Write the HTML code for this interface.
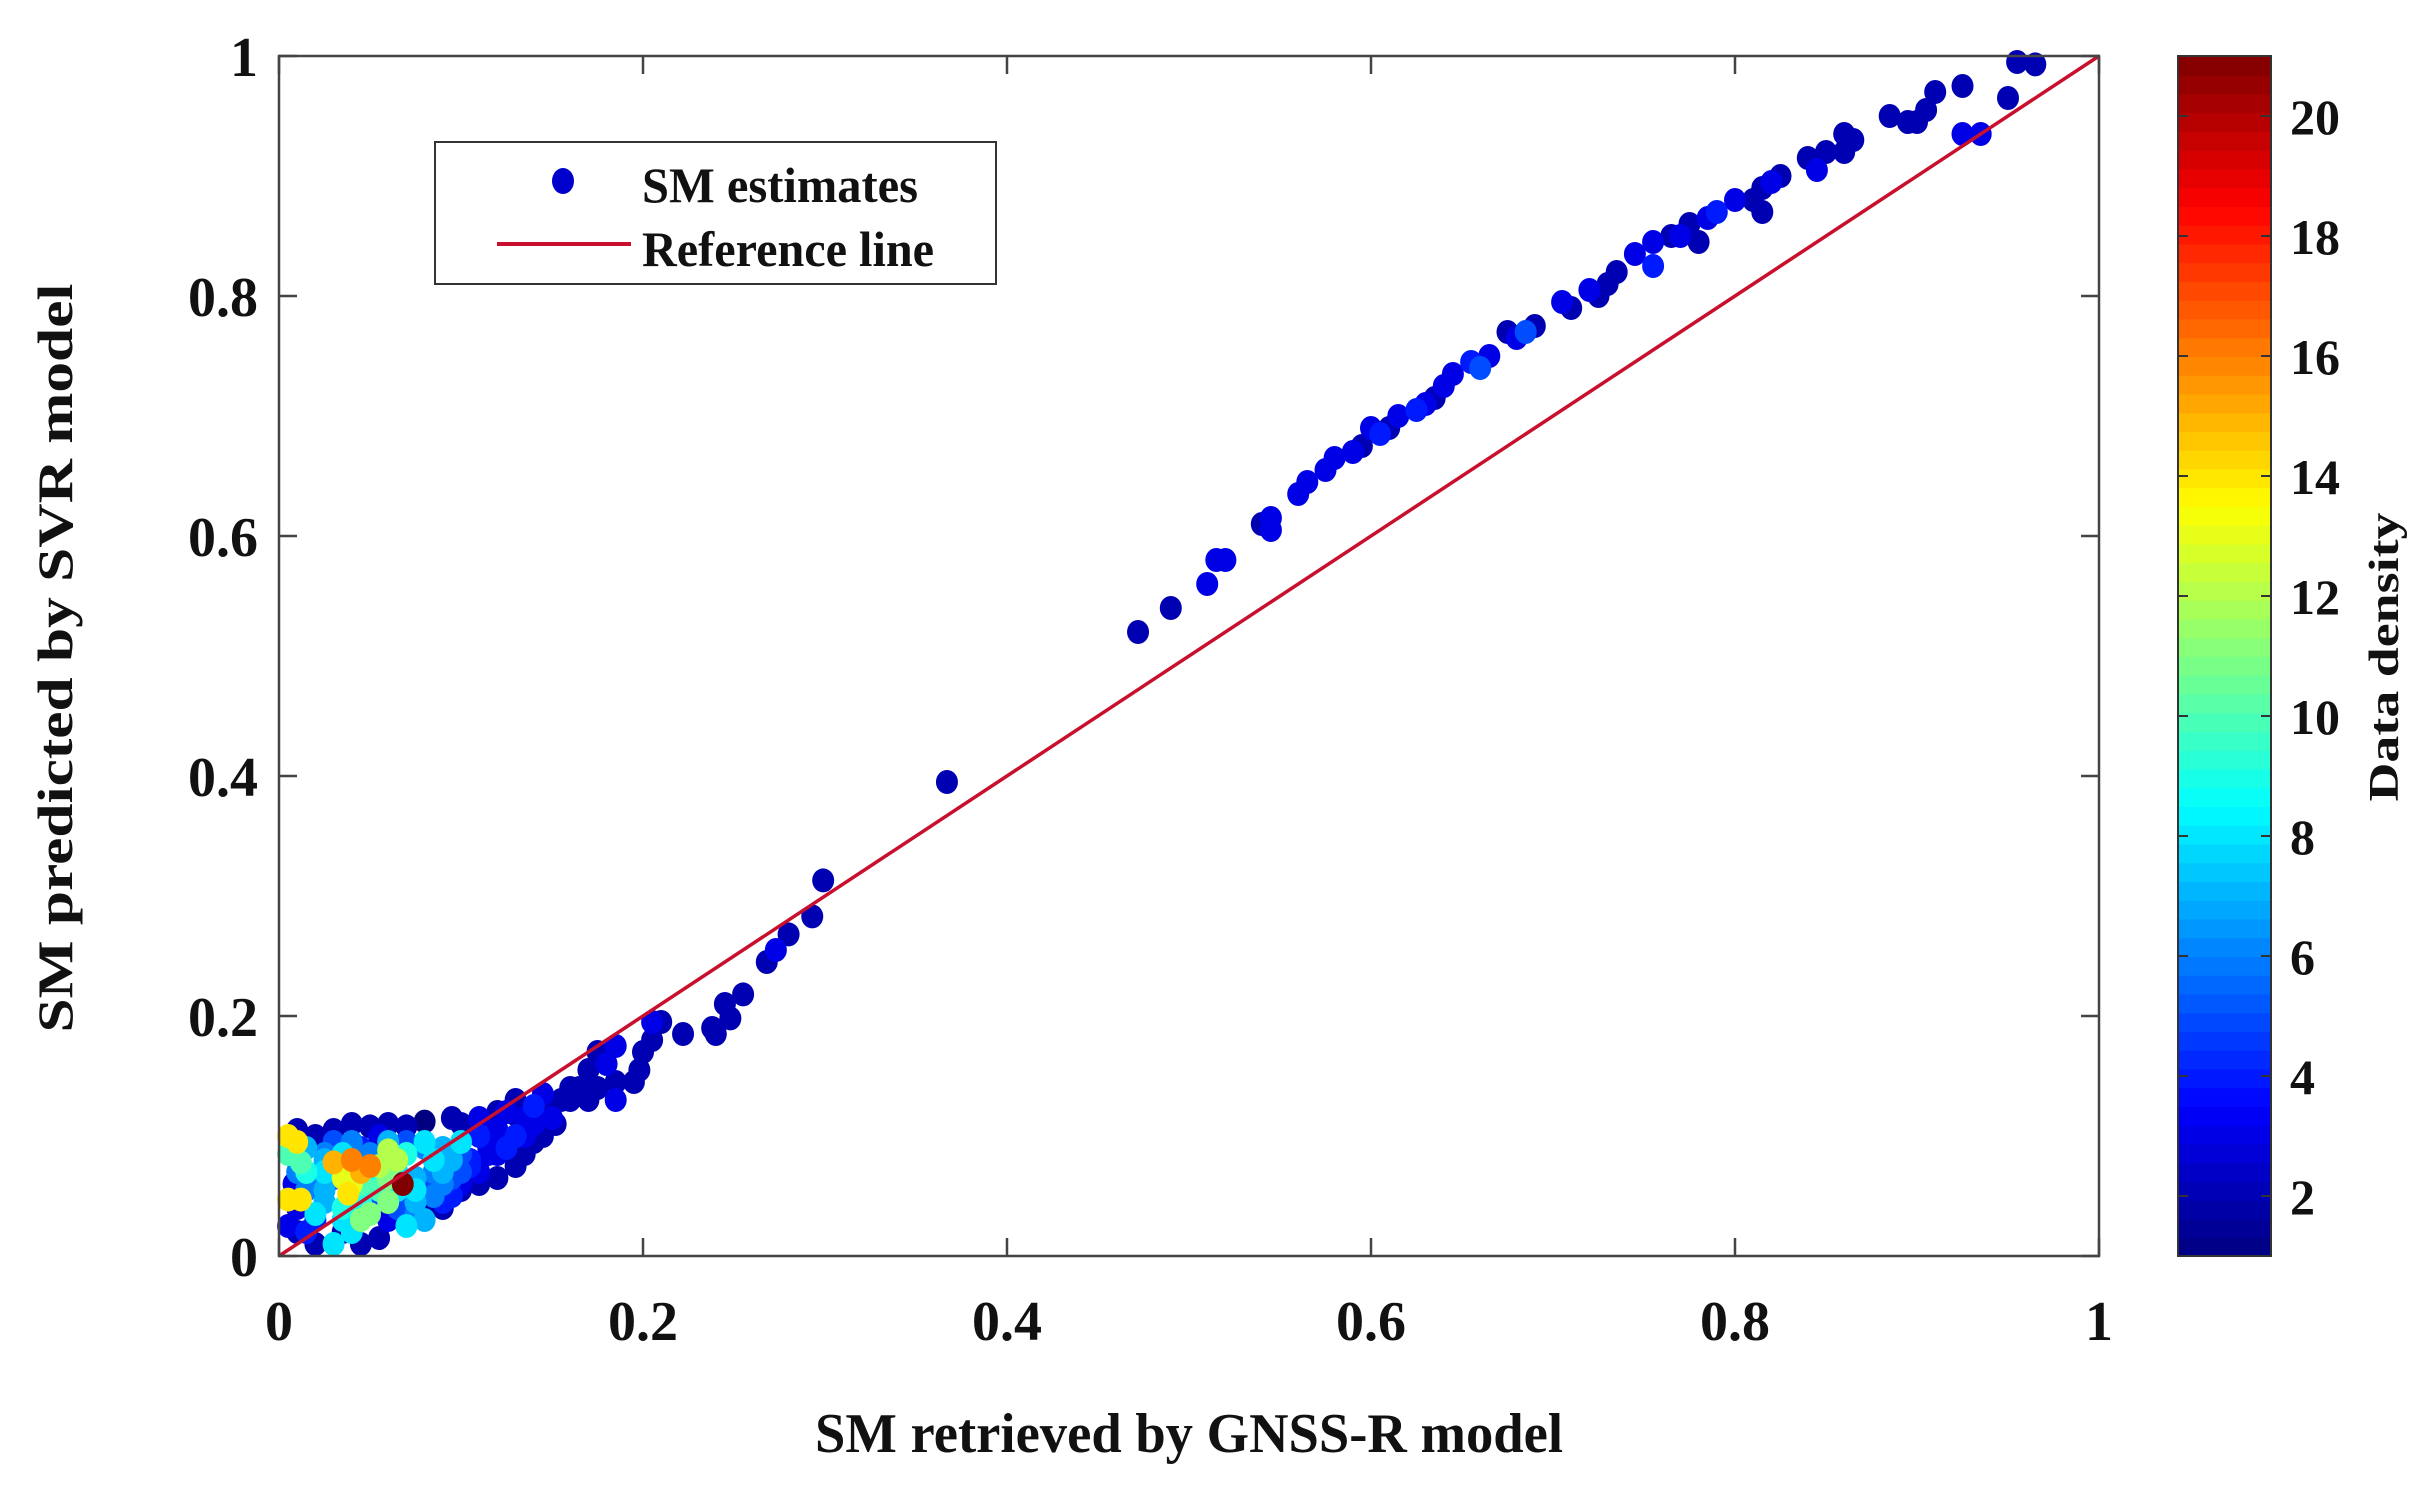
<!DOCTYPE html>
<html><head><meta charset="utf-8"><style>
html,body{margin:0;padding:0;background:#fff;}
svg{display:block;}
text{font-family:"Liberation Serif",serif;font-weight:bold;fill:#111;}
</style></head><body>
<svg id="chart" width="2425" height="1486" viewBox="0 0 2425 1486" xmlns="http://www.w3.org/2000/svg">
<g id="cb"></g>
<g id="pts"></g>
<line id="ref" stroke="#c8102e" stroke-width="3.5"/>
<g id="axes"></g>
<g>
<rect x="435" y="142" width="561" height="142" fill="#fff" stroke="#333" stroke-width="2"/>
<ellipse cx="563" cy="181" rx="11" ry="13" fill="#0000cd"/>
<text x="642" y="202" font-size="50" textLength="276" lengthAdjust="spacingAndGlyphs">SM estimates</text>
<line x1="497" y1="244" x2="631" y2="244" stroke="#c8102e" stroke-width="4"/>
<text x="642" y="266" font-size="50" textLength="292" lengthAdjust="spacingAndGlyphs">Reference line</text>
</g>
<text x="1189" y="1452" font-size="56" text-anchor="middle" textLength="748" lengthAdjust="spacingAndGlyphs">SM retrieved by GNSS-R model</text>
<text transform="translate(72,658) rotate(-90)" font-size="50" text-anchor="middle" textLength="749" lengthAdjust="spacingAndGlyphs">SM predicted by SVR model</text>
<text transform="translate(2398,657) rotate(-90)" font-size="42" text-anchor="middle" textLength="289" lengthAdjust="spacingAndGlyphs">Data density</text>
</svg>
<script>
const xVals=[0.955,0.965,0.925,0.91,0.95,0.905,0.895,0.885,0.90,0.925,0.935,0.86,0.865,0.85,0.84,0.845,0.86,0.825,0.815,0.82,0.81,0.815,0.80,0.79,0.785,0.775,0.78,0.765,0.77,0.755,0.745,0.755,0.735,0.73,0.725,0.72,0.71,0.705,0.69,0.685,0.68,0.675,0.665,0.655,0.66,0.645,0.64,0.635,0.63,0.625,0.615,0.61,0.605,0.60,0.595,0.59,0.58,0.575,0.565,0.56,0.545,0.54,0.545,0.515,0.52,0.51,0.49,0.472,0.367,0.299,0.293,0.28,0.273,0.268,0.255,0.245,0.248,0.238,0.24,0.222,0.21,0.205,0.205,0.2,0.198,0.195,0.185,0.18,0.175,0.17,0.185,0.175,0.185,0.17,0.16,0.16,0.152,0.145,0.14,0.145,0.135,0.13,
0.01,0.02,0.03,0.04,0.05,0.06,0.07,0.08,0.095,0.1,0.11,0.12,0.125,0.13,
0.01,0.02,0.035,0.055,0.045,0.08,0.09,0.1,0.11,0.12,0.13,0.135,0.14,0.01,0.008,0.02,0.06,0.07,0.005,
0.05,0.065,0.075,0.085,0.09,0.1,0.11,0.12,0.13,0.12,0.11,0.1,0.095,
0.025,0.03,0.045,0.055,0.07,0.08,
0.03,0.04,0.025,0.075,0.085,0.095,0.07,0.08,0.015,0.02,0.1,0.09,0.035,0.045,0.055,0.015,0.025,
0.005,0.012,0.05,0.045,0.06,0.055,0.065,0.06,
0.03,0.04,0.05,0.045,
0.005,0.01,0.005,0.012,0.035,0.04,0.038,
0.015,0.025,0.035,0.05,0.06,0.065,0.075,0.085,0.09,0.1,0.105,0.115,0.125,0.09,0.08,0.07,0.06,0.05,0.04,0.03,0.02,0.015,0.01,0.025,0.035,0.045,0.055,0.065,0.075,0.085,0.095,0.105,0.115,0.14,0.15,0.145,0.155,0.165,0.125,0.135,
0.068];
const yVals=[0.995,0.993,0.975,0.97,0.965,0.955,0.945,0.95,0.945,0.935,0.935,0.935,0.93,0.92,0.915,0.905,0.92,0.9,0.89,0.895,0.88,0.87,0.88,0.87,0.865,0.86,0.845,0.85,0.85,0.845,0.835,0.825,0.82,0.81,0.80,0.805,0.79,0.795,0.775,0.77,0.765,0.77,0.75,0.745,0.74,0.735,0.725,0.715,0.71,0.705,0.70,0.69,0.685,0.69,0.675,0.67,0.665,0.655,0.645,0.635,0.615,0.61,0.605,0.58,0.58,0.56,0.54,0.52,0.395,0.313,0.283,0.268,0.255,0.245,0.218,0.21,0.198,0.19,0.185,0.185,0.195,0.195,0.18,0.17,0.155,0.145,0.175,0.16,0.17,0.155,0.145,0.14,0.13,0.13,0.14,0.13,0.11,0.1,0.125,0.135,0.115,0.13,
0.105,0.1,0.105,0.11,0.108,0.11,0.108,0.112,0.115,0.11,0.115,0.12,0.12,0.118,
0.02,0.01,0.02,0.015,0.01,0.04,0.04,0.055,0.06,0.065,0.075,0.085,0.095,0.04,0.06,0.03,0.03,0.045,0.025,
0.05,0.04,0.035,0.06,0.045,0.085,0.1,0.105,0.1,0.085,0.07,0.06,0.05,
0.085,0.095,0.09,0.1,0.095,0.09,
0.01,0.02,0.055,0.055,0.08,0.08,0.025,0.03,0.09,0.065,0.095,0.07,0.04,0.045,0.055,0.07,0.07,
0.085,0.078,0.035,0.03,0.088,0.075,0.08,0.065,
0.078,0.08,0.075,0.07,
0.1,0.095,0.047,0.047,0.065,0.06,0.052,
0.055,0.045,0.03,0.065,0.045,0.07,0.065,0.07,0.06,0.07,0.08,0.09,0.095,0.09,0.095,0.085,0.095,0.085,0.095,0.065,0.035,0.02,0.07,0.08,0.085,0.06,0.07,0.055,0.045,0.05,0.065,0.075,0.085,0.11,0.115,0.125,0.13,0.14,0.09,0.1,
0.06];
const densVals=[2,2,2,2,2,2,2,2,2,3,3,2,2,2,2,3,2,2,2,3,2,2,3,4,3,2,2,2,3,3,3,4,2,2,2,3,2,3,2,5,3,2,3,4,5,3,3,2,3,4,3,2,4,3,2,3,3,3,3,3,3,2,3,3,3,3,2,2,2,2,2,2,3,2,2,2,2,2,2,2,2,3,2,2,2,2,3,3,2,2,2,2,3,2,2,2,2,2,4,3,3,2,
2,2,2,2,2,2,2,1,2,2,3,2,3,2,
2,2,2,2,2,2,2,2,2,2,2,2,2,3,3,4,3,4,3,
5,5,6,5,4,5,4,3,4,3,3,3,4,
6,5,4,3,5,6,
8,8,7,8,8,7,8,7,7,6,8,7,9,9,10,9,8,
10,10,11,11,12,12,12,11,
15,16,16,15,
14,14,14,14,13,13,14,
6,7,8,9,11,8,7,6,6,5,4,3,3,7,8,9,7,6,6,5,8,4,6,7,8,10,9,8,7,6,5,4,3,3,3,2,2,2,4,3,
21];
const xTicks=[0,0.2,0.4,0.6,0.8,1];
const xTickLabels=["0","0.2","0.4","0.6","0.8","1"];
const yTicks=[0,0.2,0.4,0.6,0.8,1];
const yTickLabels=["0","0.2","0.4","0.6","0.8","1"];
const cbTicks=[2,4,6,8,10,12,14,16,18,20];
const cbRange=[1,21];

const NS="http://www.w3.org/2000/svg";
const L=279,R=2099,T=56,B=1256;
const CL=2178,CR=2271;
const sx=v=>L+v*(R-L);
const sy=v=>B-v*(B-T);
const sc=v=>B-(v-cbRange[0])/(cbRange[1]-cbRange[0])*(B-T);
function jet(t){t=Math.max(0,Math.min(1,t));
 const f=c=>Math.round(255*Math.max(0,Math.min(1,1.5-Math.abs(4*t-c))));
 return `rgb(${f(3)},${f(2)},${f(1)})`;}
function mk(tag,attrs,parent){const e=document.createElementNS(NS,tag);for(const k in attrs)e.setAttribute(k,attrs[k]);parent.appendChild(e);return e;}

const cb=document.getElementById('cb');
const N=64;
for(let i=0;i<N;i++){
 const r=mk('rect',{x:CL,y:T+(B-T)*(N-1-i)/N,width:CR-CL,height:(B-T)/N+1,fill:jet((i+0.5)/N)},cb);
 
 
}
const cbf=mk('rect',{x:CL,y:T,width:CR-CL,height:B-T,fill:'none',stroke:'#333','stroke-width':2},cb);


cbTicks.forEach(v=>{
 const y=sc(v);
 const t1=mk('line',{x1:CL,x2:CL+10,y1:y,y2:y,stroke:'#333','stroke-width':2},cb);
 
 
 const t2=mk('line',{x1:CR-10,x2:CR,y1:y,y2:y,stroke:'#333','stroke-width':2},cb);
 
 
 const tx=mk('text',{x:CR+19,y:y+18,'font-size':50},cb);
 tx.textContent=String(v);
 
 
});

const pts=document.getElementById('pts');
const order=densVals.map((d,i)=>i).sort((a,b)=>densVals[a]-densVals[b]);
order.forEach(i=>{
 const c=mk('ellipse',{cx:sx(xVals[i]),cy:sy(yVals[i]),rx:11,ry:12,fill:jet((densVals[i]-cbRange[0])/(cbRange[1]-cbRange[0]))},pts);
 
 
});

const ref=document.getElementById('ref');
ref.setAttribute('x1',sx(0));ref.setAttribute('y1',sy(0));
ref.setAttribute('x2',sx(1));ref.setAttribute('y2',sy(1));

const ax=document.getElementById('axes');
const fr=mk('rect',{x:L,y:T,width:R-L,height:B-T,fill:'none',stroke:'#444','stroke-width':2.5},ax);


xTicks.forEach((v,i)=>{
 const x=sx(v);
 const a=mk('line',{x1:x,x2:x,y1:B,y2:B-18,stroke:'#444','stroke-width':2.5},ax);
 
 
 const b=mk('line',{x1:x,x2:x,y1:T,y2:T+18,stroke:'#444','stroke-width':2.5},ax);
 
 
 const t=mk('text',{x:x,y:1340,'font-size':56,'text-anchor':'middle'},ax);
 t.textContent=xTickLabels[i];
 
 
});
yTicks.forEach((v,i)=>{
 const y=sy(v);
 const a=mk('line',{x1:L,x2:L+18,y1:y,y2:y,stroke:'#444','stroke-width':2.5},ax);
 
 
 const b=mk('line',{x1:R-18,x2:R,y1:y,y2:y,stroke:'#444','stroke-width':2.5},ax);
 
 
 const t=mk('text',{x:258,y:y+20,'font-size':56,'text-anchor':'end'},ax);
 t.textContent=yTickLabels[i];
 
 
});
</script>
</body></html>
